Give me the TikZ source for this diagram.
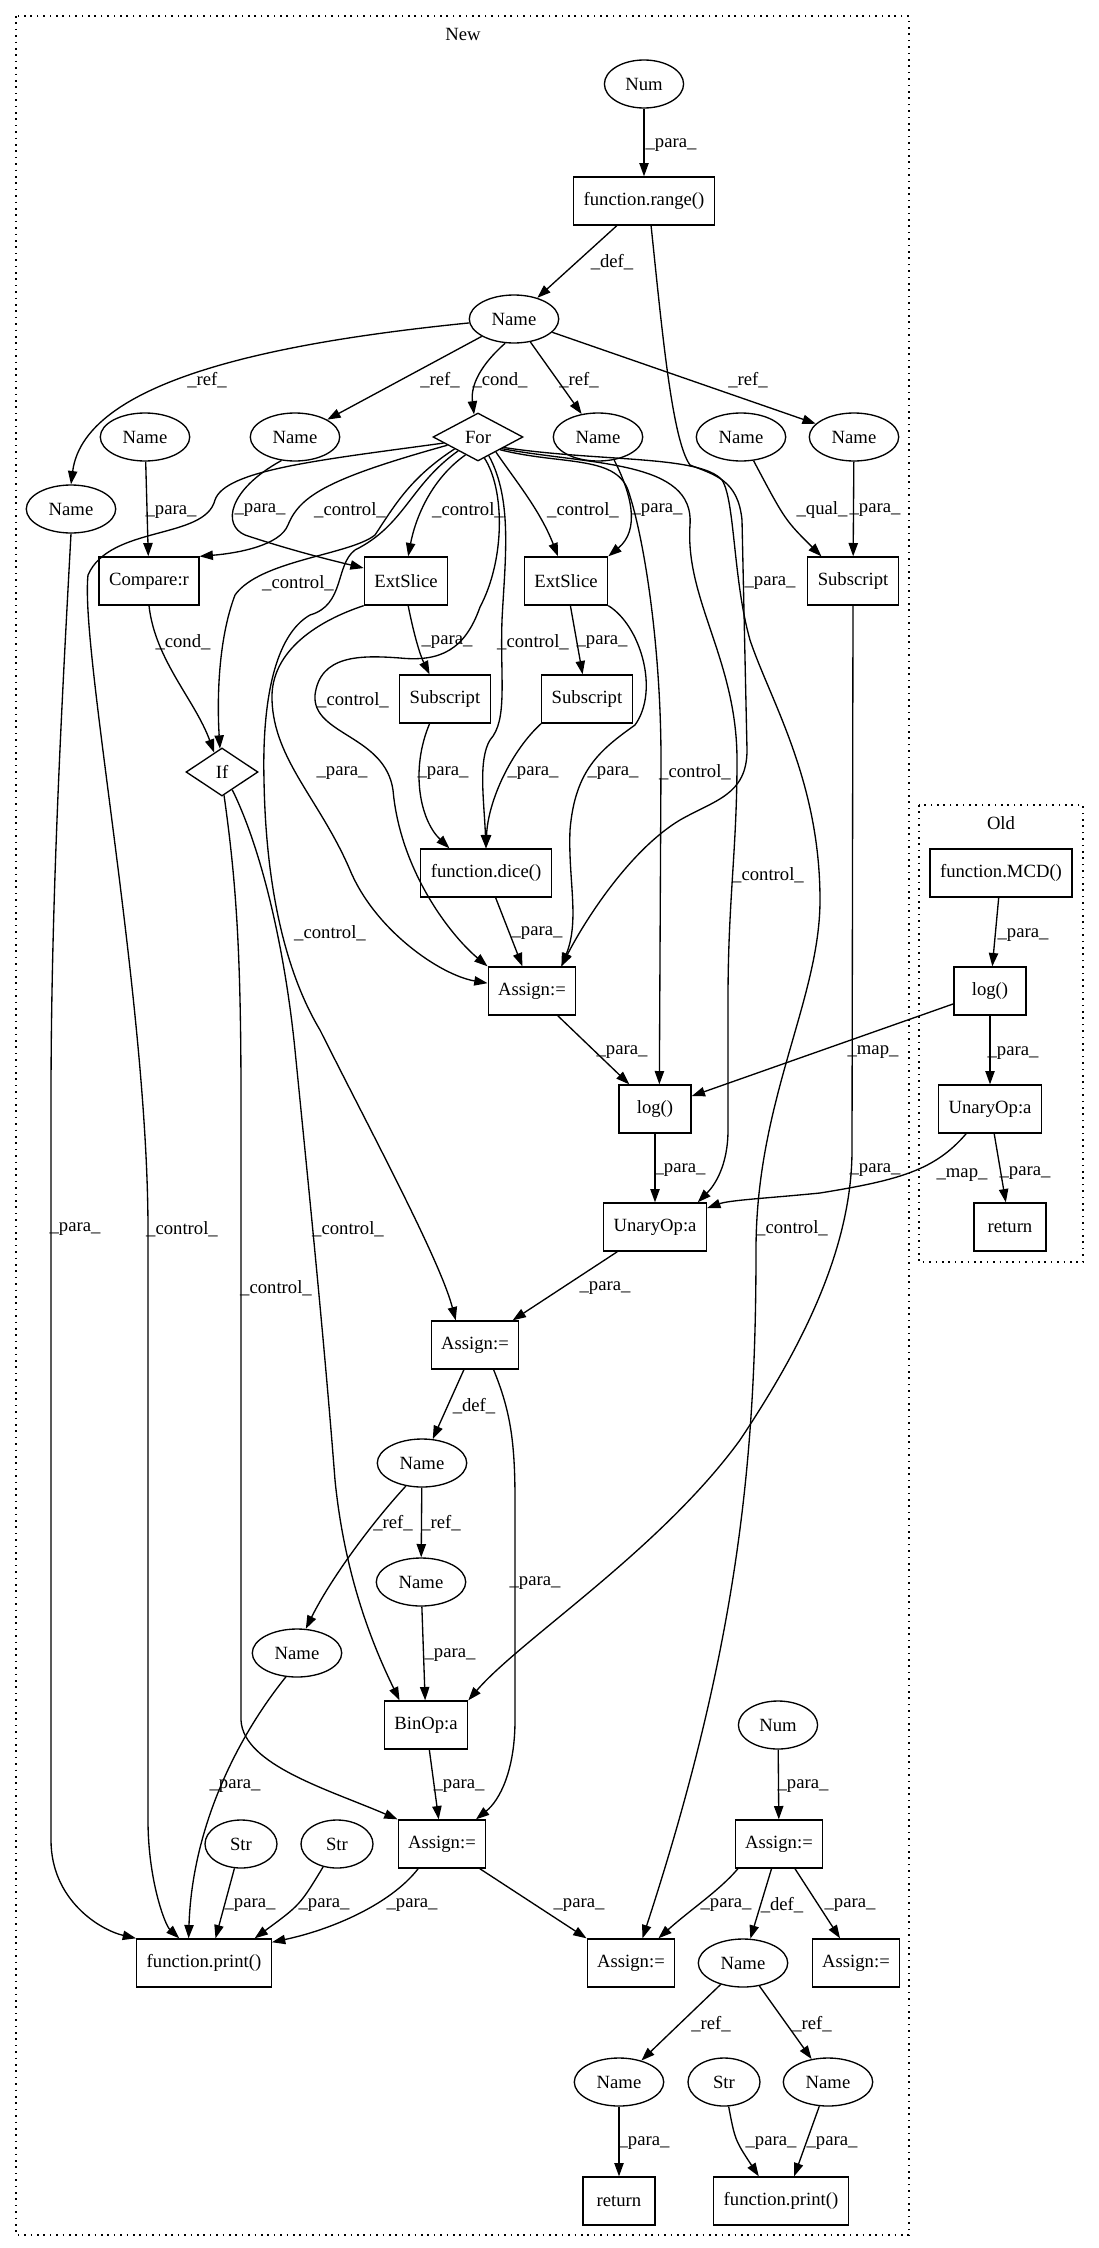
\documentclass[tikz,border=0pt]{standalone}
\usepackage{fontspec}
\setmainfont{Liberation Serif}
\usetikzlibrary{arrows.meta,shapes.geometric}

\begin{document}
\begin{tikzpicture}[
    x=0.75pt, y=-0.75pt,
    font=\fontsize{14}{16}\selectfont,
    box/.style={draw, line width=1pt, rectangle, minimum height=36pt, minimum width=54pt, inner xsep=7.5pt},
    ell/.style={draw, line width=1pt, ellipse, minimum height=36pt, minimum width=54pt, inner xsep=7pt, inner ysep=3pt},
    dia/.style={draw, line width=1pt, diamond, minimum height=36pt, inner sep=1pt, shape aspect=2},
    lab/.style={inner sep=0pt},
    arr/.style={line width=1pt, -{Triangle[length=10pt,width=7pt]}},
    clus/.style={line width=1pt, dash pattern=on 1.2pt off 3.6pt}
]
\useasboundingbox (0,0) rectangle (1099,2248);

% ---- clusters ----
\draw[clus] (16,16) rectangle (909,2235);
\node (tnew) at (463,34) {New};
\draw[clus] (919,805) rectangle (1083,1262);
\node (told) at (1001,823) {Old};

% ---- nodes: New ----
\node[ell] (num)     at (644,84)   {Num};
\node[box] (range)   at (644,201)  {function.range()};
\node[ell] (nametop) at (514,319)  {Name};
\node[ell] (nameA)   at (71,509)   {Name};
\node[ell] (nameB)   at (145,437)  {Name};
\node[ell] (nameC)   at (295,437)  {Name};
\node[dia, minimum width=67.5pt] (fornode) at (478,437) {For};
\node[ell] (nameD)   at (598,437)  {Name};
\node[ell] (nameE)   at (741,437)  {Name};
\node[ell] (nameF)   at (854,437)  {Name};
\node[box] (cmp)     at (149,581)  {Compare:r};
\node[box] (ext1)    at (406,581)  {ExtSlice};
\node[box] (ext2)    at (566,581)  {ExtSlice};
\node[box] (subR)    at (853,581)  {Subscript};
\node[box] (sub1)    at (445,699)  {Subscript};
\node[box] (sub2)    at (587,699)  {Subscript};
\node[dia, minimum width=54pt] (ifnode) at (222,772) {If};
\node[box] (dice)    at (486,873)  {function.dice()};
\node[box] (asg1)    at (532,991)  {Assign:=};
\node[box] (log)     at (655,1109) {log()};
\node[box] (unary)   at (655,1227) {UnaryOp:a};
\node[box] (asg2)    at (475,1345) {Assign:=};
\node[ell] (nameG)   at (422,1463) {Name};
\node[ell] (nameH)   at (421,1582) {Name};
\node[ell] (nameI)   at (297,1653) {Name};
\node[box] (binop)   at (426,1725) {BinOp:a};
\node[ell] (num2)    at (778,1725) {Num};
\node[box] (asg3)    at (442,1844) {Assign:=};
\node[ell] (str1)    at (241,1844) {Str};
\node[ell] (str2)    at (337,1844) {Str};
\node[box] (asg4)    at (779,1844) {Assign:=};
\node[box] (print1)  at (204,1963) {function.print()};
\node[box] (asg5)    at (631,1963) {Assign:=};
\node[ell] (nameJ)   at (743,1963) {Name};
\node[box] (asg6)    at (856,1963) {Assign:=};
\node[ell] (nameK)   at (619,2082) {Name};
\node[ell] (str3)    at (724,2082) {Str};
\node[ell] (nameL)   at (828,2082) {Name};
\node[box] (ret)     at (619,2201) {return};
\node[box] (print2)  at (781,2201) {function.print()};

% ---- nodes: Old ----
\node[box] (mcd)      at (1001,873)  {function.MCD()};
\node[box] (oldlog)   at (990,991)   {log()};
\node[box] (oldunary) at (990,1109)  {UnaryOp:a};
\node[box] (oldret)   at (1010,1227) {return};

% ---- edges from the top ----
\draw[arr] (num) -- (range);
\draw[arr] (range) -- (nametop);
\draw[arr] (range.-74) .. controls (662,330) and (672,440) .. (690,465) .. controls (715,475) and (738,480) .. (742,520) -- (747,750) .. controls (747,795) and (715,800) .. (680,820) .. controls (630,850) and (585,920) .. (asg1.40);
\draw[arr] (nametop.185) .. controls (300,340) and (85,375) .. (nameA.north);
\draw[arr] (nametop) -- (nameC);
\draw[arr] (nametop.250) .. controls (475,370) and (471,390) .. (fornode.100);
\draw[arr] (nametop) -- (nameD);
\draw[arr] (nametop) -- (nameF);

% ---- edges from the For node ----
\draw[arr] (fornode.195) .. controls (330,478) and (300,495) .. (288,525) .. controls (280,545) and (240,553) .. (cmp.north east);
\draw[arr] (fornode.190) .. controls (320,460) and (225,470) .. (215,500) .. controls (205,540) and (110,525) .. (88,575) .. controls (80,650) and (148,1000) .. (148,1230) -- (148,1820) .. controls (148,1880) and (165,1925) .. (print1.135);
\draw[arr] (fornode.207) .. controls (410,478) and (395,505) .. (375,535) .. controls (350,555) and (260,560) .. (235,595) .. controls (218,640) and (217,700) .. (ifnode.95);
\draw[arr] (fornode.215) .. controls (410,485) and (405,525) .. (355,550) .. controls (335,565) and (345,605) .. (310,615) .. controls (275,635) and (262,700) .. (264,780) .. controls (266,900) and (290,980) .. (320,1030) .. controls (370,1130) and (440,1260) .. (asg2.128);
\draw[arr] (fornode.235) .. controls (430,480) and (415,520) .. (ext1.85);
\draw[arr] (fornode.287) .. controls (505,490) and (505,560) .. (480,607) .. controls (465,650) and (440,662) .. (400,658) .. controls (360,655) and (320,655) .. (315,695) .. controls (312,735) and (385,735) .. (393,790) .. controls (400,870) and (450,935) .. (asg1.north west);
\draw[arr] (fornode.300) .. controls (513,500) and (505,560) .. (502,620) .. controls (500,680) and (508,720) .. (490,740) .. controls (478,760) and (484,800) .. (dice.north);
\draw[arr] (fornode.320) .. controls (515,480) and (540,510) .. (ext2.108);
\draw[arr] (fornode.330) .. controls (560,465) and (615,455) .. (628,490) .. controls (645,540) and (661,650) .. (661,760) -- (log.80);
\draw[arr] (fornode.334) .. controls (590,465) and (695,460) .. (690,525) .. controls (685,600) and (737,660) .. (737,760) .. controls (737,850) and (728,900) .. (728,1000) -- (728,1130) .. controls (728,1165) and (715,1185) .. (unary.30);
\draw[arr] (fornode.338) .. controls (600,462) and (700,455) .. (722,480) .. controls (735,500) and (733,580) .. (750,640) .. controls (770,700) and (820,780) .. (820,900) .. controls (820,1000) and (756,1100) .. (756,1250) .. controls (756,1450) and (740,1640) .. (asg5.65);

% ---- names into slices and subscripts ----
\draw[arr] (nameB) -- (cmp);
\draw[arr] (nameC.240) .. controls (228,490) and (222,525) .. (245,535) .. controls (290,550) and (330,560) .. (ext1.163);
\draw[arr] (nameD.-55) .. controls (632,495) and (640,530) .. (ext2.north east);
\draw[arr] (nameE) .. controls (785,520) .. (subR.142);
\draw[arr] (nameF) -- (subR);
\draw[arr] (cmp.south) .. controls (155,660) and (195,700) .. (ifnode.112);

% ---- middle ----
\draw[arr] (ext1.-85) .. controls (414,635) and (420,655) .. (sub1.122);
\draw[arr] (ext1.south west) .. controls (320,620) and (270,650) .. (272,700) .. controls (274,760) and (320,800) .. (350,870) .. controls (375,930) and (440,975) .. (asg1.170);
\draw[arr] (ext2) -- (sub2);
\draw[arr] (ext2.south east) .. controls (640,625) and (660,690) .. (635,725) .. controls (600,750) and (575,770) .. (570,830) .. controls (568,880) and (580,920) .. (asg1.40);
\draw[arr] (sub1.238) .. controls (410,770) and (420,820) .. (dice.146);
\draw[arr] (sub2.south west) .. controls (512,750) and (488,800) .. (dice.north);
\draw[arr] (dice) -- (asg1);
\draw[arr] (asg1) -- (log);
\draw[arr] (log) -- (unary);
\draw[arr] (unary) -- (asg2);
\draw[arr] (subR.south) -- (852,1150) .. controls (852,1250) and (800,1350) .. (740,1440) .. controls (660,1550) and (520,1640) .. (binop.north east);

% ---- If node ----
\draw[arr] (ifnode.-60) .. controls (262,850) and (285,950) .. (295,1050) .. controls (310,1200) and (325,1350) .. (335,1480) .. controls (345,1580) and (375,1650) .. (binop.137);
\draw[arr] (ifnode.-85) .. controls (236,880) and (241,950) .. (241,1100) -- (241,1720) .. controls (243,1765) and (330,1790) .. (asg3.north west);

% ---- lower part ----
\draw[arr] (nameA.south) .. controls (62,700) and (51,900) .. (51,1100) -- (51,1840) .. controls (51,1900) and (100,1930) .. (print1.north west);
\draw[arr] (asg2) -- (nameG);
\draw[arr] (asg2.-53) .. controls (510,1410) and (515,1440) .. (515,1500) -- (515,1720) .. controls (515,1770) and (500,1800) .. (asg3.36);
\draw[arr] (nameG) -- (nameH);
\draw[arr] (nameG.235) .. controls (370,1525) and (330,1580) .. (nameI.70);
\draw[arr] (nameH) -- (binop);
\draw[arr] (nameI.245) .. controls (235,1740) and (192,1830) .. (print1.122);
\draw[arr] (binop) -- (asg3);
\draw[arr] (str1) -- (print1.65);
\draw[arr] (str2) .. controls (300,1905) .. (print1.26);
\draw[arr] (asg3.226) .. controls (390,1905) and (330,1930) .. (print1.17);
\draw[arr] (asg3) -- (asg5.north west);
\draw[arr] (num2) -- (asg4);
\draw[arr] (asg4.211) .. controls (720,1890) and (690,1910) .. (asg5.42);
\draw[arr] (asg4) -- (nameJ);
\draw[arr] (asg4) -- (asg6);
\draw[arr] (nameJ) -- (nameK);
\draw[arr] (nameJ) -- (nameL);
\draw[arr] (nameK) -- (ret);
\draw[arr] (str3) .. controls (735,2140) .. (print2.132);
\draw[arr] (nameL) -- (print2.62);

% ---- Old, and the maps ----
\draw[arr] (mcd) -- (oldlog);
\draw[arr] (oldlog) -- (oldunary);
\draw[arr] (oldunary) -- (oldret);
\draw[arr] (oldlog) -- (log);
\draw[arr] (oldunary.226) .. controls (935,1170) and (900,1180) .. (820,1193) .. controls (770,1198) and (730,1200) .. (unary.20);

% ---- edge labels ----
\node[lab] (l1)  at (671,145)  {\_para\_};
\node[lab] (l2)  at (612,262)  {\_def\_};
\node[lab] (l3)  at (207,380)  {\_ref\_};
\node[lab] (l4)  at (440,380)  {\_ref\_};
\node[lab] (l5)  at (500,380)  {\_cond\_};
\node[lab] (l6)  at (579,380)  {\_ref\_};
\node[lab] (l7)  at (748,380)  {\_ref\_};
\node[lab] (l8)  at (171,512)  {\_para\_};
\node[lab] (l9)  at (260,510)  {\_para\_};
\node[lab] (l10) at (350,510)  {\_control\_};
\node[lab] (l11) at (468,510)  {\_control\_};
\node[lab] (l12) at (583,510)  {\_control\_};
\node[lab] (l13) at (657,510)  {\_para\_};
\node[lab] (l14) at (822,510)  {\_qual\_};
\node[lab] (l15) at (875,510)  {\_para\_};
\node[lab] (l16) at (298,583)  {\_control\_};
\node[lab] (l17) at (770,583)  {\_para\_};
\node[lab] (l18) at (183,642)  {\_cond\_};
\node[lab] (l19) at (447,642)  {\_para\_};
\node[lab] (l20) at (533,642)  {\_control\_};
\node[lab] (l21) at (602,642)  {\_para\_};
\node[lab] (l22) at (353,700)  {\_control\_};
\node[lab] (l23) at (342,773)  {\_para\_};
\node[lab] (l24) at (443,773)  {\_para\_};
\node[lab] (l25) at (533,773)  {\_para\_};
\node[lab] (l26) at (613,773)  {\_para\_};
\node[lab] (l27) at (695,772)  {\_control\_};
\node[lab] (l28) at (768,875)  {\_control\_};
\node[lab] (l29) at (330,933)  {\_control\_};
\node[lab] (l30) at (537,933)  {\_para\_};
\node[lab] (l31) at (622,1052) {\_para\_};
\node[lab] (l32) at (873,1052) {\_map\_};
\node[lab] (l33) at (680,1170) {\_para\_};
\node[lab] (l34) at (875,1170) {\_para\_};
\node[lab] (l35) at (962,1175) {\_map\_};
\node[lab] (l36) at (75,1229)  {\_para\_};
\node[lab] (l37) at (182,1229) {\_control\_};
\node[lab] (l38) at (348,1229) {\_control\_};
\node[lab] (l39) at (792,1228) {\_control\_};
\node[lab] (l40) at (605,1288) {\_para\_};
\node[lab] (l41) at (276,1288) {\_control\_};
\node[lab] (l42) at (474,1406) {\_def\_};
\node[lab] (l43) at (393,1523) {\_ref\_};
\node[lab] (l44) at (441,1523) {\_ref\_};
\node[lab] (l45) at (535,1583) {\_para\_};
\node[lab] (l46) at (450,1655) {\_para\_};
\node[lab] (l47) at (235,1786) {\_para\_};
\node[lab] (l48) at (459,1786) {\_para\_};
\node[lab] (l49) at (803,1786) {\_para\_};
\node[lab] (l50) at (250,1905) {\_para\_};
\node[lab] (l51) at (324,1905) {\_para\_};
\node[lab] (l52) at (412,1905) {\_para\_};
\node[lab] (l53) at (579,1905) {\_para\_};
\node[lab] (l54) at (726,1905) {\_para\_};
\node[lab] (l55) at (782,1905) {\_def\_};
\node[lab] (l56) at (850,1905) {\_para\_};
\node[lab] (l57) at (711,2024) {\_ref\_};
\node[lab] (l58) at (812,2024) {\_ref\_};
\node[lab] (l59) at (644,2143) {\_para\_};
\node[lab] (l60) at (771,2143) {\_para\_};
\node[lab] (l61) at (832,2143) {\_para\_};
\node[lab] (l62) at (1023,935) {\_para\_};
\node[lab] (l63) at (1013,1053) {\_para\_};
\node[lab] (l64) at (1025,1173) {\_para\_};

\end{tikzpicture}
\end{document}
